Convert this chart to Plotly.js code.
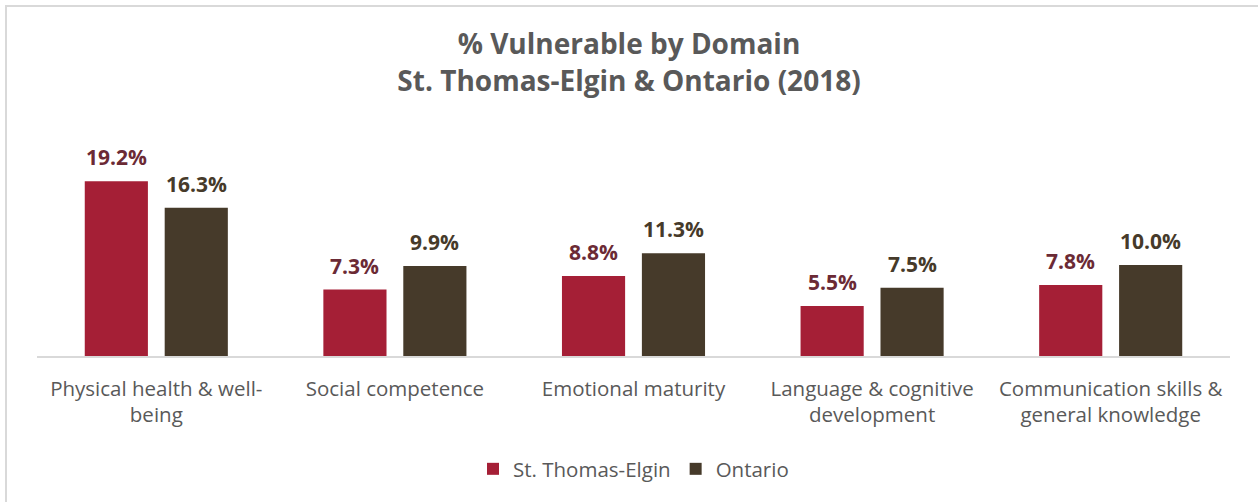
<!DOCTYPE html>
<html>
<head>
<meta charset="utf-8">
<script src="https://cdn.plot.ly/plotly-3.0.1.min.js"></script>
<style>
html,body{margin:0;padding:0;background:#fff;}
#wrap{position:relative;width:1258px;height:502px;overflow:hidden;}
#frame{position:absolute;left:5px;top:5px;width:1300px;height:600px;border-left:2px solid #d9d9d9;border-top:2px solid #d9d9d9;}
#chart{position:absolute;left:0;top:0;width:1258px;height:502px;}
</style>
</head>
<body>
<div id="wrap"><div id="frame"></div><div id="chart"></div></div>
<script>
const categories = [
  "Physical health & well-<br>being",
  "Social competence",
  "Emotional maturity",
  "Language & cognitive<br>development",
  "Communication skills &<br>general knowledge"
];
const stThomasElgin = [19.2, 7.3, 8.8, 5.5, 7.8];
const ontario = [16.3, 9.9, 11.3, 7.5, 10.0];
const seriesNames = ["St. Thomas-Elgin", "Ontario"];

const FONT = "'Open Sans', Lato, sans-serif";
const COLORS = ["#A51F36", "#463A2A"];
const LABEL_COLORS = ["#6B2A35", "#463A2A"];

const traces = [
  {type: "bar", name: seriesNames[0], x: categories, y: stThomasElgin,
   marker: {color: COLORS[0]}, hoverinfo: "none"},
  {type: "bar", name: seriesNames[1], x: categories, y: ontario,
   marker: {color: COLORS[1]}, hoverinfo: "none"}
];

const annotations = [];
[stThomasElgin, ontario].forEach((vals, s) => {
  vals.forEach((v, i) => {
    annotations.push({
      x: categories[i], y: v, xref: "x", yref: "y",
      text: "<b>" + v.toFixed(1) + "%</b>",
      showarrow: false, yanchor: "bottom", xanchor: "center",
      xshift: s === 0 ? -40 : 40, yshift: 8,
      font: {family: FONT, size: 21, color: LABEL_COLORS[s]}
    });
  });
});

const layout = {
  width: 1258, height: 502,
  paper_bgcolor: "rgba(0,0,0,0)", plot_bgcolor: "rgba(0,0,0,0)",
  margin: {l: 37, r: 28, t: 130, b: 146},
  title: {
    text: "<b>% Vulnerable by Domain<br>St. Thomas-Elgin & Ontario (2018)</b>",
    font: {family: FONT, size: 28, color: "#595959"},
    x: 0.5, xanchor: "center", yref: "container", y: 0.892, yanchor: "middle"
  },
  barmode: "group", bargap: 0.33, bargroupgap: 0.21,
  xaxis: {
    showline: true, linecolor: "#d9d9d9", linewidth: 2,
    ticks: "", showgrid: false, zeroline: false,
    tickfont: {family: FONT, size: 20.5, color: "#595959"},
    ticklabelstandoff: 13,
    fixedrange: true
  },
  yaxis: {range: [0, 24.83], visible: false, showgrid: false, zeroline: false, fixedrange: true},
  annotations: annotations,
  showlegend: true,
  legend: {
    orientation: "h", x: 0.5, xanchor: "center", y: -0.50, yanchor: "middle",
    font: {family: FONT, size: 20.5, color: "#595959"},
    traceorder: "normal"
  }
};

Plotly.newPlot("chart", traces, layout, {displayModeBar: false, staticPlot: true});
</script>
</body>
</html>
